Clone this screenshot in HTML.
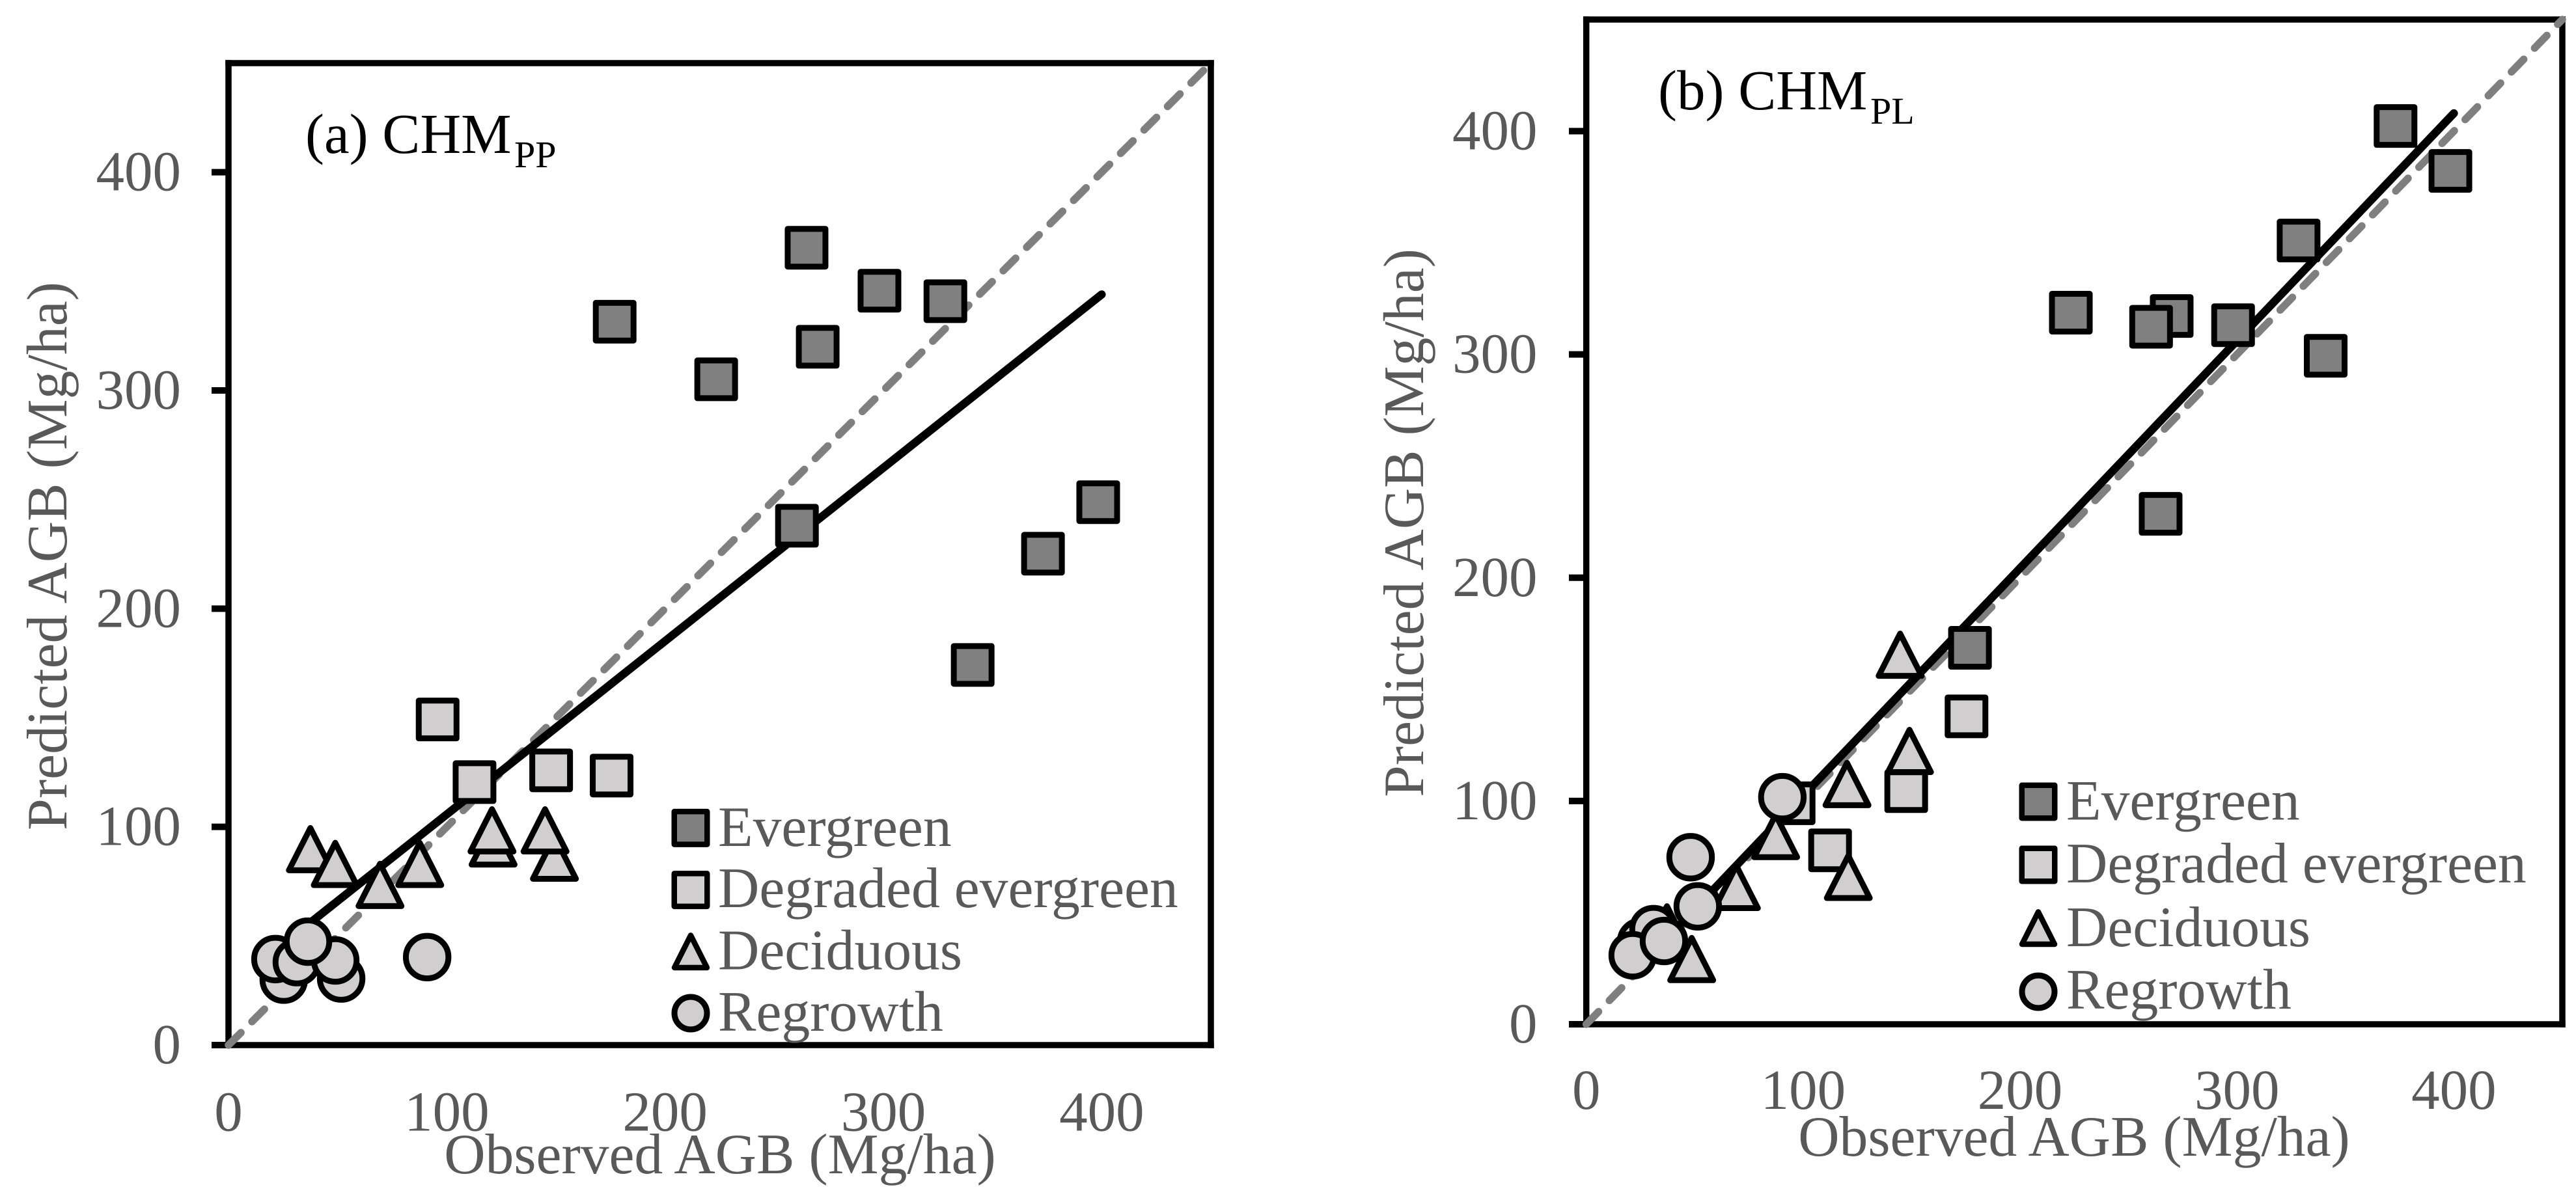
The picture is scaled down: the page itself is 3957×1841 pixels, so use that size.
<!DOCTYPE html>
<html lang="en">
<head>
<meta charset="utf-8">
<title>Observed vs Predicted AGB</title>
<style>
html,body{margin:0;padding:0;background:#fff;}
svg{display:block;}
text{font-family:"Liberation Serif",serif;}
.gr{fill:#595959;font-size:87px;}
.lb{fill:#595959;font-size:87.7px;}
.bk{fill:#000;font-size:87px;}
.sub{fill:#000;font-size:58px;}
</style>
</head>
<body>
<svg id="chart" xmlns="http://www.w3.org/2000/svg" width="3957" height="1841" viewBox="0 0 3957 1841">
  <rect x="0" y="0" width="3957" height="1841" fill="#fff"/>
  <g id="panel-a"></g>
  <g id="panel-b"></g>

  <g id="labels-a">
    <text class="bk" x="469" y="235">(a) CHM</text>
    <text class="sub" x="790" y="257">PP</text>
    <text class="lb" x="1106" y="1803" text-anchor="middle">Observed AGB (Mg/ha)</text>
    <text class="lb" transform="translate(102,854.5) rotate(-90)" text-anchor="middle">Predicted AGB (Mg/ha)</text>
    <g>
      <rect x="1035.75" y="1247.15" width="50.5" height="50.5" fill="#808080" stroke="#000" stroke-width="8.5" stroke-linejoin="round"/>
      <text class="lb" x="1103" y="1300">Evergreen</text>
      <rect x="1035.75" y="1342.35" width="50.5" height="50.5" fill="#d0cece" stroke="#000" stroke-width="8.5" stroke-linejoin="round"/>
      <text class="lb" x="1103" y="1394">Degraded evergreen</text>
      <path d="M1061 1437.4 L1086 1487 L1036 1487 Z" fill="#d0cece" stroke="#000" stroke-width="8.5" stroke-linejoin="round"/>
      <text class="lb" x="1103" y="1489.5">Deciduous</text>
      <circle cx="1061" cy="1557" r="25" fill="#d0cece" stroke="#000" stroke-width="9"/>
      <text class="lb" x="1103" y="1584">Regrowth</text>
    </g>
  </g>

  <g id="labels-b">
    <text class="bk" x="2547" y="168">(b) CHM</text>
    <text class="sub" x="2873" y="190">PL</text>
    <text class="lb" x="3186" y="1776" text-anchor="middle">Observed AGB (Mg/ha)</text>
    <text class="lb" transform="translate(2186,803.5) rotate(-90)" text-anchor="middle">Predicted AGB (Mg/ha)</text>
    <g>
      <rect x="3105.75" y="1206.75" width="50.5" height="50.5" fill="#808080" stroke="#000" stroke-width="8.5" stroke-linejoin="round"/>
      <text class="lb" x="3174" y="1259.5">Evergreen</text>
      <rect x="3105.75" y="1303.75" width="50.5" height="50.5" fill="#d0cece" stroke="#000" stroke-width="8.5" stroke-linejoin="round"/>
      <text class="lb" x="3174" y="1356">Degraded evergreen</text>
      <path d="M3131 1401.4 L3156 1451 L3106 1451 Z" fill="#d0cece" stroke="#000" stroke-width="8.5" stroke-linejoin="round"/>
      <text class="lb" x="3174" y="1454">Deciduous</text>
      <circle cx="3131" cy="1524" r="25" fill="#d0cece" stroke="#000" stroke-width="9"/>
      <text class="lb" x="3174" y="1550">Regrowth</text>
    </g>
  </g>
</svg>

<script>
// Axis tick labels
const yTickValues = [0, 100, 200, 300, 400];
const xTickValues = [0, 100, 200, 300, 400];
const axisMax = [450];

// Panel (a) CHM_PP
const aEvergreenObs  = [264.8, 298.2, 328.4, 269.9, 223.4, 260.4, 398.4, 373.1, 340.9, 176.9];
const aEvergreenPred = [365.4, 345.7, 340.9, 320.0, 305.1, 238.0, 248.8, 225.2, 174.2, 331.5];
const aDegradedObs   = [95.8, 112.7, 147.8, 175.5];
const aDegradedPred  = [149.2, 120.5, 125.9, 123.5];
const aDeciduousObs  = [37.5, 48.9, 87.6, 69.4, 121.2, 120.7, 149.3, 145.0];
const aDeciduousPred = [89.8, 83.0, 83.0, 73.4, 92.4, 98.4, 85.9, 98.4];
const aRegrowthObs   = [25.3, 51.6, 21.5, 31.3, 48.9, 36.4, 91.0];
const aRegrowthPred  = [30.0, 30.5, 39.4, 38.0, 38.8, 47.4, 40.3];
const aFitObs  = [21, 400];
const aFitPred = [43, 344];

// Panel (b) CHM_PL
const bEvergreenObs  = [373.1, 398.4, 328.4, 269.9, 260.4, 223.4, 298.2, 340.9, 264.8, 176.9];
const bEvergreenPred = [402.3, 382.2, 351.0, 317.2, 312.4, 318.7, 313.1, 299.4, 228.6, 168.6];
const bDegradedObs   = [95.6, 112.4, 147.5, 175.3];
const bDegradedPred  = [99.0, 77.9, 104.4, 137.9];
const bDeciduousObs  = [37.2, 48.6, 69.2, 87.3, 120.2, 120.8, 144.7, 149.0];
const bDeciduousPred = [43.4, 29.2, 61.5, 84.3, 107.6, 66.0, 165.5, 122.4];
const bRegrowthObs   = [25.3, 31.0, 21.4, 35.8, 48.1, 51.4, 90.4];
const bRegrowthPred  = [37.0, 42.6, 30.9, 37.3, 74.8, 52.8, 101.7];
const bFitObs  = [21, 400];
const bFitPred = [22, 408];

const NS = 'http://www.w3.org/2000/svg';

function mk(parent, tag, attrs) {
  const el = document.createElementNS(NS, tag);
  for (const k in attrs) el.setAttribute(k, attrs[k]);
  parent.appendChild(el);
  return el;
}

function drawSquares(g, xs, ys, X, Y, fill, name) {
  xs.forEach(function (v, i) {
    const el = mk(g, 'rect', { x: X(v) - 29, y: Y(ys[i]) - 29, width: 58, height: 58, fill: fill, stroke: '#000', 'stroke-width': 9, 'stroke-linejoin': 'round' });
    
    
  });
}

function drawTriangles(g, xs, ys, X, Y, name) {
  xs.forEach(function (v, i) {
    const cx = X(v), cy = Y(ys[i]);
    const d = 'M' + cx + ' ' + (cy - 32.5) + ' L' + (cx + 33) + ' ' + (cy + 32.5) + ' L' + (cx - 33) + ' ' + (cy + 32.5) + ' Z';
    const el = mk(g, 'path', { d: d, fill: '#d0cece', stroke: '#000', 'stroke-width': 9, 'stroke-linejoin': 'round' });
    
    
  });
}

function drawCircles(g, xs, ys, X, Y, name) {
  xs.forEach(function (v, i) {
    const el = mk(g, 'circle', { cx: X(v), cy: Y(ys[i]), r: 32.7, fill: '#d0cece', stroke: '#000', 'stroke-width': 9 });
    
    
  });
}

function drawPanel(opt) {
  const g = document.getElementById(opt.id);
  const X = function (v) { return opt.left + v / axisMax[0] * (opt.right - opt.left); };
  const Y = function (v) { return opt.bottom - v / axisMax[0] * (opt.bottom - opt.top); };

  // Plot frame
  const frame = mk(g, 'rect', { x: X(0), y: Y(axisMax[0]), width: X(axisMax[0]) - X(0), height: Y(0) - Y(axisMax[0]), fill: '#fff', stroke: 'none' });
  
  
  const leftAxis = mk(g, 'line', { x1: X(0), x2: X(0), y1: Y(axisMax[0]) - 4.75, y2: Y(0) + 4.75, stroke: '#000', 'stroke-width': 9.5 });
  
  
  const rightAxis = mk(g, 'line', { x1: X(axisMax[0]), x2: X(axisMax[0]), y1: Y(axisMax[0]) - 4.75, y2: Y(0) + 4.75, stroke: '#000', 'stroke-width': 9.5 });
  
  
  const topAxis = mk(g, 'line', { x1: X(0) - 4.75, x2: X(axisMax[0]) + 4.75, y1: Y(axisMax[0]), y2: Y(axisMax[0]), stroke: '#000', 'stroke-width': 9.5 });
  
  
  const bottomAxis = mk(g, 'line', { x1: X(0) - 4.75, x2: X(axisMax[0]) + 4.75, y1: Y(0), y2: Y(0), stroke: '#000', 'stroke-width': 9.5 });
  
  

  // Y ticks and labels
  yTickValues.forEach(function (v) {
    const tick = mk(g, 'line', { x1: opt.tickLeft, x2: X(0), y1: Y(v), y2: Y(v), stroke: '#000', 'stroke-width': 10 });
    
    
    const t = mk(g, 'text', { x: opt.yLabelX, y: Y(v) + 28, 'text-anchor': 'end', class: 'gr' });
    
    
    t.textContent = String(v);
  });

  // X tick labels
  xTickValues.forEach(function (v) {
    const t = mk(g, 'text', { x: X(v), y: opt.xLabelY, 'text-anchor': 'middle', class: 'gr' });
    
    
    t.textContent = String(v);
  });

  // 1:1 line
  const identity = mk(g, 'line', { x1: X(0), y1: Y(0), x2: X(axisMax[0]), y2: Y(axisMax[0]), stroke: '#7f7f7f', 'stroke-width': 11.5, 'stroke-linecap': 'round', 'stroke-dasharray': '27 24' });
  
  

  // Regression line
  const fit = mk(g, 'line', { x1: X(opt.fitX[0]), y1: Y(opt.fitY[0]), x2: X(opt.fitX[1]), y2: Y(opt.fitY[1]), stroke: '#000', 'stroke-width': 12.5, 'stroke-linecap': 'round' });
  
  

  // Series
  drawSquares(g, opt.evX, opt.evY, X, Y, '#808080', 'point-evergreen');
  drawSquares(g, opt.deX, opt.deY, X, Y, '#d0cece', 'point-degraded-evergreen');
  drawTriangles(g, opt.dcX, opt.dcY, X, Y, 'point-deciduous');
  drawCircles(g, opt.reX, opt.reY, X, Y, 'point-regrowth');
}

drawPanel({
  id: 'panel-a', left: 351, right: 1860, top: 97, bottom: 1606,
  tickLeft: 325, yLabelX: 278, xLabelY: 1737.5,
  fitX: aFitObs, fitY: aFitPred,
  evX: aEvergreenObs, evY: aEvergreenPred,
  deX: aDegradedObs, deY: aDegradedPred,
  dcX: aDeciduousObs, dcY: aDeciduousPred,
  reX: aRegrowthObs, reY: aRegrowthPred
});

drawPanel({
  id: 'panel-b', left: 2436.7, right: 3936, top: 30, bottom: 1574,
  tickLeft: 2410, yLabelX: 2361.5, xLabelY: 1704,
  fitX: bFitObs, fitY: bFitPred,
  evX: bEvergreenObs, evY: bEvergreenPred,
  deX: bDegradedObs, deY: bDegradedPred,
  dcX: bDeciduousObs, dcY: bDeciduousPred,
  reX: bRegrowthObs, reY: bRegrowthPred
});
</script>
</body>
</html>
